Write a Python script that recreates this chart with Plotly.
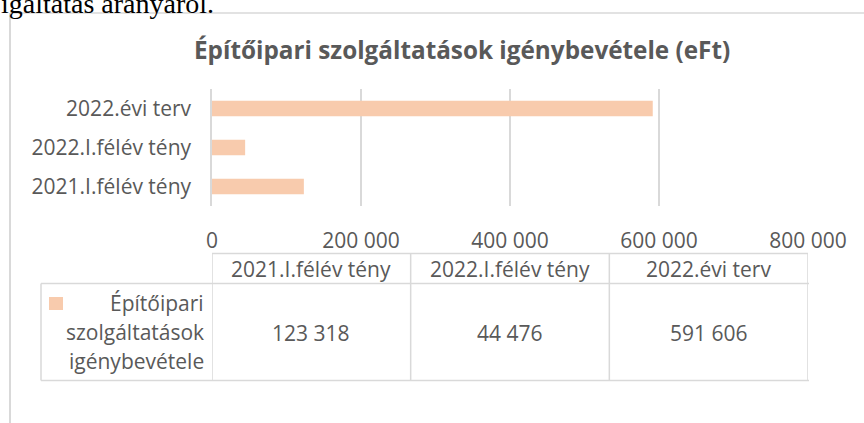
import plotly.graph_objects as go

# ---- data ----
categories = ["2021.I.félév tény", "2022.I.félév tény", "2022.évi terv"]
values = [123318, 44476, 591606]
series_name = "Építőipari szolgáltatások igénybevétele"
title_text = "Építőipari szolgáltatások igénybevétele (eFt)"
x_ticks = [0, 200000, 400000, 600000, 800000]
page_text = "igáltatás arányáról."

# ---- style ----
W, H = 864, 423
BAR = "#F8CBAD"
TXT = "#595959"
GRID = "#d9d9d9"
FONT = "Open Sans"
FS = 21

def px(x):
    return x / W

def py(y):
    return 1 - y / H

xmax = x_ticks[-1]

fig = go.Figure()
fig.add_trace(go.Bar(
    y=categories, x=values, orientation="h", name=series_name,
    marker=dict(color=BAR, line=dict(width=0)), width=0.4,
    hoverinfo="x+y",
))

shapes = []
annotations = []

# outer frame (partial, as cropped)
shapes.append(dict(type="line", xref="paper", yref="paper", x0=px(10), x1=px(10), y0=py(13), y1=0,
                   line=dict(color=GRID, width=2)))
shapes.append(dict(type="line", xref="paper", yref="paper", x0=px(10), x1=1, y0=py(13), y1=py(13),
                   line=dict(color=GRID, width=1.5)))

# data table
y_top, y_mid, y_bot = 253.5, 283.5, 380.5
ncol = len(categories)
col_edges = [i * xmax / ncol for i in range(ncol + 1)]
tl = dict(color=GRID, width=1.5)
shapes.append(dict(type="line", xref="x", yref="paper", x0=col_edges[0], x1=col_edges[-1],
                   y0=py(y_top), y1=py(y_top), line=tl))
for yy in (y_mid, y_bot):
    shapes.append(dict(type="line", xref="paper", yref="paper", x0=px(41), x1=px(809),
                       y0=py(yy), y1=py(yy), line=tl))
shapes.append(dict(type="line", xref="paper", yref="paper", x0=px(41), x1=px(41),
                   y0=py(y_mid), y1=py(y_bot), line=tl))
for e in col_edges:
    shapes.append(dict(type="line", xref="x", yref="paper", x0=e, x1=e,
                       y0=py(y_top), y1=py(y_bot), line=tl))

for i, (c, v) in enumerate(zip(categories, values)):
    xc = (col_edges[i] + col_edges[i + 1]) / 2
    annotations.append(dict(x=xc, y=py(268.5), xref="x", yref="paper", text=c, showarrow=False,
                            xanchor="center", yanchor="middle", font=dict(family=FONT, size=FS, color=TXT)))
    annotations.append(dict(x=xc, y=py(333), xref="x", yref="paper", text=f"{v:,}".replace(",", " "),
                            showarrow=False, xanchor="center", yanchor="middle",
                            font=dict(family=FONT, size=FS, color=TXT)))

# legend key + series name in the table
shapes.append(dict(type="rect", xref="paper", yref="paper", x0=px(49), x1=px(63), y0=py(310), y1=py(297),
                   fillcolor=BAR, line=dict(width=0)))
name_lines = series_name.split(" ")
for j, ln in enumerate(name_lines):
    annotations.append(dict(x=px(206), y=py(303 + 29 * j), xref="paper", yref="paper", text=ln,
                            showarrow=False, xanchor="right", yanchor="middle",
                            font=dict(family=FONT, size=FS, color=TXT)))

# chart title
annotations.append(dict(x=px(462), y=py(49.5), xref="paper", yref="paper", text=f"<b>{title_text}</b>",
                        showarrow=False, xanchor="center", yanchor="middle",
                        font=dict(family=FONT, size=24.3, color=TXT)))

# cropped document text above the chart
annotations.append(dict(x=px(-1), y=py(3.5), xref="paper", yref="paper", text=page_text,
                        showarrow=False, xanchor="left", yanchor="middle",
                        font=dict(family="Liberation Serif", size=28, color="#000000")))

fig.update_layout(
    width=W, height=H, autosize=False,
    margin=dict(l=0, r=0, t=0, b=0, autoexpand=False),
    paper_bgcolor="white", plot_bgcolor="white",
    showlegend=False,
    separators=". ",
    bargap=0.6,
    shapes=shapes, annotations=annotations,
    xaxis=dict(domain=[px(212), px(808)], range=[0, xmax], tickvals=x_ticks, tickformat=",d",
               showgrid=True, gridcolor=GRID, gridwidth=1.5, zeroline=False, showline=False,
               ticks="", ticklabelstandoff=20, fixedrange=True, automargin=False,
               tickfont=dict(family=FONT, size=FS, color=TXT)),
    yaxis=dict(domain=[py(206), py(89)], type="category", categoryorder="array", categoryarray=categories,
               showgrid=False, zeroline=False, showline=True, linecolor=GRID, linewidth=1.5,
               ticks="", ticklabelstandoff=15, fixedrange=True, automargin=False,
               tickfont=dict(family=FONT, size=FS, color=TXT)),
)

post = ("document.documentElement.style.margin='0';document.documentElement.style.overflow='hidden';"
        "document.body.style.margin='0';document.body.style.padding='0';document.body.style.overflow='hidden';")
fig.write_html("out.html", config={"responsive": False, "displayModeBar": False}, post_script=post)
